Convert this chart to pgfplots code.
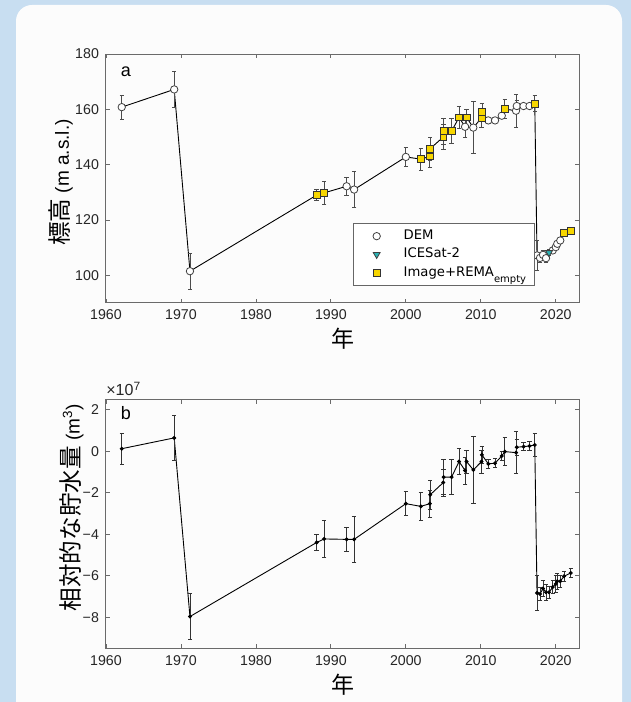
\documentclass[border=0pt]{standalone}
\usepackage{pgfplots}
\pgfplotsset{compat=1.18}
\usepackage{pgfplotstable}
\usepackage{fontspec}
\setmainfont{Liberation Sans}
\newfontfamily\jp{Noto Sans CJK JP}
\newfontfamily\leg{DejaVu Sans}
\definecolor{bgblue}{HTML}{C8DEF1}
\definecolor{panel}{HTML}{FCFCFC}
\definecolor{ygold}{HTML}{F7D600}
\definecolor{tealc}{HTML}{2BB3B5}
\definecolor{axgray}{HTML}{6A6A6A}

\pgfplotstableread{
yr el ee vol ve
1962.1 160.8 4.4 0.12 0.75
1969.1 167.2 6.4 0.64 1.07
1971.2 101.5 6.5 -7.97 1.10
1988.1 129.0 2.0 -4.40 0.37
1989.1 129.8 4.1 -4.23 0.90
1992.1 132.2 3.3 -4.25 0.58
1993.1 131.0 6.6 -4.25 1.13
2000.0 142.8 3.5 -2.53 0.58
2002.0 142.0 4.0 -2.66 0.68
2003.2 143.0 4.0 -2.53 0.65
2003.25 145.8 4.2 -2.10 0.70
2005.0 150.0 4.5 -1.51 0.65
2005.05 152.1 4.8 -1.25 0.85
2006.1 152.1 4.5 -1.25 0.85
2007.1 157.1 3.9 -0.50 0.62
2007.9 153.7 3.7 -0.93 0.65
2008.1 157.1 3.0 -0.50 0.55
2009.0 153.4 9.3 -0.90 1.60
2010.1 156.9 3.5 -0.50 0.55
2010.15 159.1 3.0 -0.18 0.40
2011.0 156.0 1.0 -0.61 0.22
2011.9 156.0 1.0 -0.58 0.22
2012.8 157.7 1.0 -0.23 0.22
2013.2 160.1 3.5 -0.02 0.68
2014.7 159.5 6.0 -0.07 1.00
2014.8 161.2 2.0 0.19 0.40
2015.7 161.2 1.0 0.22 0.20
2016.5 161.2 1.0 0.25 0.20
2017.2 162.1 3.0 0.30 0.55
2017.5 107.2 5.5 -6.83 0.83
2017.9 106.3 1.5 -6.88 0.30
2018.3 107.4 1.5 -6.62 0.40
2018.7 106.2 1.5 -6.80 0.40
2019.1 108.2 1.0 -6.80 0.30
2019.6 109.0 1.0 -6.55 0.30
2020.0 110.2 1.0 -6.40 0.40
2020.2 111.4 1.0 -6.27 0.40
2020.6 112.6 1.0 -6.27 0.30
2021.1 115.4 0.8 -6.03 0.25
2022.0 116.2 0.8 -5.87 0.20
}\alldata

\pgfplotstableread{
yr el
1962.1 160.8
1969.1 167.2
1971.2 101.5
1992.1 132.2
1993.1 131.0
2000.0 142.8
2007.9 153.7
2009.0 153.4
2011.0 156.0
2011.9 156.0
2012.8 157.7
2014.7 159.5
2014.8 161.2
2015.7 161.2
2016.5 161.2
2017.5 107.2
2017.9 106.3
2018.3 107.4
2018.7 106.2
2019.6 109.0
2020.0 110.2
2020.2 111.4
2020.6 112.6
}\demdata

\pgfplotstableread{
yr el
2019.1 108.2
}\icedata

\pgfplotstableread{
yr el
1988.1 129.0
1989.1 129.8
2002.0 142.0
2003.2 143.0
2003.25 145.8
2005.0 150.0
2005.05 152.1
2006.1 152.1
2007.1 157.1
2008.1 157.1
2010.1 156.9
2010.15 159.1
2013.2 160.1
2017.2 162.1
2021.1 115.4
2022.0 116.2
}\imgdata

\pgfplotsset{
  myaxis/.style={
    scale only axis, width=236.5pt, height=124.5pt,
    xmin=1960, xmax=2023.1,
    axis line style={axgray, line width=0.5pt},
    tick style={axgray, line width=0.4pt},
    major tick length=2.2pt, tick align=inside,
    xtick={1960,1970,1980,1990,2000,2010,2020},
    xticklabels={1960,1970,1980,1990,2000,2010,2020},
    ticklabel style={font=\fontsize{7.1}{8}\selectfont, text=black!85},
    xlabel={\jp 年},
    xlabel style={at={(axis description cs:0.5,-0.1446)}, anchor=center, font=\fontsize{11.5}{12}\selectfont},
    ylabel style={anchor=center, font=\fontsize{11.8}{12}\selectfont},
    clip=false,
  },
  ebar/.style={error bars/.cd, y dir=both, y explicit,
    error bar style={black!70, line width=0.4pt},
    error mark options={rotate=90, black!70, mark size=1.1pt, line width=0.4pt}},
  legmark/.style={legend image code/.code={%
    \path[draw=none, fill=none] (0pt,0pt) -- (21pt,0pt);
    \draw[##1] plot coordinates {(11pt,0pt)};}},
}

\begin{document}
\begin{tikzpicture}
\useasboundingbox (0pt,0pt) rectangle (315.5pt,351pt);
\fill[bgblue] (0pt,0pt) rectangle (315.5pt,351pt);
\fill[panel, rounded corners=8pt] (8pt,-20pt) rectangle (311pt,348.5pt);

% ---------- panel a ----------
\begin{axis}[myaxis, at={(53pt,199.5pt)}, anchor=south west,
  ymin=90, ymax=180, ytick={100,120,140,160,180},
  yticklabels={100,120,140,160,180},
  ylabel={\jp 標高 {\fontsize{9.5}{10}\selectfont\rmfamily (m a.s.l.)}},
  ylabel style={at={(axis description cs:-0.0951,0.484)}},
  legend style={at={(0.5228,0.0695)}, anchor=south west, draw=black!60,
    line width=0.4pt, fill=white, font=\leg\fontsize{6.6}{7.5}\selectfont,
    inner xsep=0.5pt, inner ysep=2.5pt, row sep=1.6pt,
    nodes={inner xsep=3.5pt, inner ysep=0.6pt}},
  legend cell align=left,
]
\addplot[black, line width=0.45pt, mark=none, forget plot] table[x=yr, y=el] {\alldata};
\addplot[draw=none, mark=none, forget plot, ebar] table[x=yr, y=el, y error=ee] {\alldata};
\addplot[only marks, mark=*, mark size=1.85pt, mark options={fill=white, draw=black!75, line width=0.4pt}, legmark] table[x=yr, y=el] {\demdata};
\addlegendentry{DEM}
\addplot[only marks, mark=triangle*, mark size=2pt, mark options={rotate=180, fill=tealc, draw=black!75, line width=0.4pt}, legmark] table[x=yr, y=el] {\icedata};
\addlegendentry{ICESat-2}
\addplot[only marks, mark=square*, mark size=1.7pt, mark options={fill=ygold, draw=black!80, line width=0.4pt}, legmark] table[x=yr, y=el] {\imgdata};
\addlegendentry{Image+REMA\raisebox{-3pt}{\fontsize{5}{6}\selectfont empty}}
\node[anchor=center, font=\fontsize{9}{10}\selectfont] at (rel axis cs:0.042,0.93) {a};
\end{axis}

% ---------- panel b ----------
\begin{axis}[myaxis, at={(53pt,26.85pt)}, anchor=south west,
  ymin=-9.5, ymax=2.5, ytick={-8,-6,-4,-2,0,2},
  yticklabels={−8,−6,−4,−2,0,2},
  ylabel={\jp 相対的な貯水量 {\fontsize{9.5}{10}\selectfont\rmfamily (m\textsuperscript{3})}},
  ylabel style={at={(axis description cs:-0.0725,0.565)}},
]
\addplot[black, line width=0.45pt, mark=*, mark size=0.75pt, mark options={fill=black},
  error bars/.cd, y dir=both, y explicit,
  error bar style={black!80, line width=0.4pt},
  error mark options={rotate=90, black!80, mark size=1.1pt, line width=0.4pt}]
  table[x=yr, y=vol, y error=ve] {\alldata};
\node[anchor=center, font=\fontsize{9}{10}\selectfont] at (rel axis cs:0.042,0.946) {b};
\node[anchor=south west, inner sep=0pt, font=\fontsize{8}{9}\selectfont, text=black!85] at (rel axis cs:0,1.012) {×10\textsuperscript{7}};
\end{axis}
\end{tikzpicture}
\end{document}
